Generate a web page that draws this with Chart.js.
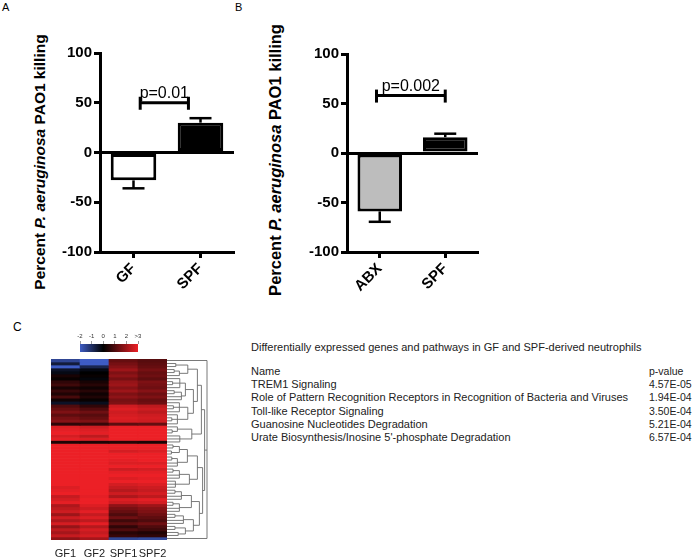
<!DOCTYPE html>
<html>
<head>
<meta charset="utf-8">
<script src="https://cdn.jsdelivr.net/npm/chart.js@4/dist/chart.umd.min.js"></script>
<style>
  html, body { margin:0; padding:0; background:#fff; }
  body { width:693px; height:558px; position:relative; overflow:hidden; font-family:"Liberation Sans", Arial, sans-serif; color:#000; }
  canvas { position:absolute; }
  .lbl { position:absolute; white-space:nowrap; line-height:1; }
  .ytitle { position:absolute; white-space:nowrap; font-weight:bold; line-height:1; transform:translate(-50%,-50%) rotate(-90deg); }
  .tbl { position:absolute; white-space:nowrap; font-size:11px; line-height:1; color:#222; transform:translateY(-50%); }
  .pv { font-size:10.5px; }
</style>
</head>
<body>
<div class="lbl" style="left:2px;top:2px;font-size:11px;">A</div>
<div class="lbl" style="left:235px;top:2px;font-size:11px;">B</div>
<div class="lbl" style="left:13px;top:321px;font-size:12px;">C</div>

<div class="ytitle" style="left:40px;top:162px;font-size:15.5px;">Percent <i>P. aeruginosa</i> PAO1 killing</div>
<div class="ytitle" style="left:275px;top:160px;font-size:16.5px;">Percent <i>P. aeruginosa</i> PAO1 killing</div>

<canvas id="chartA" width="190" height="260" style="left:50px;top:40px;"></canvas>
<canvas id="chartB" width="195" height="260" style="left:290px;top:40px;"></canvas>
<canvas id="colorbar" width="80" height="26" style="left:70px;top:328px;"></canvas>
<canvas id="heat" width="135" height="208" style="left:40px;top:350px;"></canvas>
<canvas id="dendro" width="60" height="208" style="left:160px;top:350px;"></canvas>

<div id="table"></div>

<script>
// ---------------- DATA ----------------
const categoriesA = ['GF', 'SPF'];
const killingA = [-28, 30];
const errorA = [8, 4.5];
const pValueA = 'p=0.01';

const categoriesB = ['ABX', 'SPF'];
const killingB = [-59, 16];
const errorB = [10.5, 3.5];
const pValueB = 'p=0.002';

const yTickValues = [-100, -50, 0, 50, 100];

const heatColumns = ['GF1', 'GF2', 'SPF1', 'SPF2'];
const heatGF1 = [-1.5,-0.6,-2,-0.4,-0.2,0.3,0.1,0.6,0.8,0.3,0.7,0.4,0.9,0.2,-0.4,1.0,1.3,1.6,1.2,1.5,1.7,0.6,
  2.8,2.9,3,2.7,2.9,0.4,
  3,3,3,3,3,3,3,3,3,3,3,3,3,3,2.8,2.9,3,2.5,2.7,2.9,2.2,2.4,2.6,2.0,2.6,2.2,2.7,1.9,2.4,2.1,2.5,1.8];
const heatGF2 = [-2,-2,-0.8,-0.2,0,0.1,-0.1,0.3,0.5,0.2,0.5,0.2,0.4,0.1,-0.3,0.6,1.0,1.4,1.1,1.3,1.6,0.7,
  2.6,2.8,2.9,2.4,2.8,0.4,
  3,3,3,3,3,3,3,3,3,3,3,3,3,3,3,3,3,2.9,3,3,2.8,2.6,2.9,2.5,2.8,2.4,2.9,2.3,2.7,2.5,2.7,2.1];
const heatSPF1 = [1.3,1.5,1.7,2.0,1.6,1.8,1.5,1.9,2.0,1.7,2.0,1.6,1.8,1.5,1.6,2.6,2.8,2.6,2.7,2.8,2.7,1.2,
  3,3,3,3,3,0.5,
  3,3,2.7,3,3,2.9,2.8,3,2.6,2.9,3,2.8,3,2.7,2.5,2.3,2.6,2.2,2.8,2.6,1.8,1.5,1.3,1.0,1.4,0.8,1.2,0.6,1.0,0.5,0.7,-1.5];
const heatSPF2 = [1.1,1.2,1.3,1.5,1.3,1.4,1.2,1.6,1.5,1.4,1.7,1.4,1.6,1.3,1.4,2.4,2.6,2.4,2.6,2.7,2.6,1.3,
  3,3,3,3,3,0.4,
  3,3,2.8,3,3,3,2.8,3,2.7,2.9,3,2.9,3,2.8,2.6,2.5,2.7,2.4,2.9,2.7,2.0,1.7,1.6,1.4,1.2,1.0,1.4,1.0,0.8,0.4,0.6,-1.6];
const colorbarTicks = [-2, -1, 0, 1, 2, 3];

// dendrogram clusters: [first row, last row, merge height]
const dendroClusters = [
  [0,59,10],[1,58,9.4],[1,27,8.6],[28,58,8.9],
  [1,21,7.6],[22,27,6.2],[1,5,5.2],[6,21,6.6],[6,13,4.6],[14,21,5.2],
  [1,2,2.2],[3,5,3.1],[6,9,3.2],[10,13,3.6],[14,17,3.1],[18,21,2.6],[22,24,2.6],[25,27,3.2],
  [28,42,7.6],[43,58,8.1],[28,35,5.1],[36,42,5.6],[43,50,6.1],[51,58,6.6],
  [28,31,3.1],[32,35,2.6],[36,39,3.1],[40,42,2.1],[43,46,3.6],[47,50,3.1],[51,54,4.1],[55,58,4.6],
  [28,29,1.5],[30,31,1.1],[32,33,1.2],[36,37,1.5],[43,44,2.0],[47,48,1.5],[51,52,2.0],[55,56,2.0],[57,58,2.8],
  [7,8,1.4],[10,11,1.8],[15,16,1.6],[19,20,1.2],[3,4,1.8],[23,24,1.3]
];

const tableTitle = 'Differentially expressed genes and pathways in GF and SPF-derived neutrophils';
const tableHeader = ['Name', 'p-value'];
const pathwayNames = [
  'TREM1 Signaling',
  'Role of Pattern Recognition Receptors in Recognition of Bacteria and Viruses',
  'Toll-like Receptor Signaling',
  'Guanosine Nucleotides Degradation',
  'Urate Biosynthesis/Inosine 5\'-phosphate Degradation'
];
const pathwayPValues = ['4.57E-05', '1.94E-04', '3.50E-04', '5.21E-04', '6.57E-04'];

// ---------------- RENDER ----------------
const FONT = '"Liberation Sans", Arial, sans-serif';
Chart.defaults.font.family = FONT;
Chart.defaults.color = '#000';

function annotPlugin(errors, bracket) {
  return {
    id: 'annot',
    afterDatasetsDraw(chart) {
      const { ctx, scales: { x, y } } = chart;
      const vals = chart.data.datasets[0].data;
      const line = (a, b, c, d) => { ctx.beginPath(); ctx.moveTo(a, b); ctx.lineTo(c, d); ctx.stroke(); };
      ctx.save();
      ctx.strokeStyle = '#000';
      ctx.lineWidth = 2.5;
      vals.forEach((v, i) => {
        const px = x.getPixelForValue(i);
        const y0 = y.getPixelForValue(v);
        const y1 = y.getPixelForValue(v + Math.sign(v) * errors[i]);
        line(px, y0, px, y1);
        line(px - 11, y1, px + 11, y1);
      });
      const by = y.getPixelForValue(bracket.value);
      const bx0 = x.getPixelForValue(bracket.from);
      const bx1 = x.getPixelForValue(bracket.to);
      ctx.lineWidth = 3;
      line(bx0, by, bx1, by);
      line(bx0, by - 6, bx0, by + 7);
      line(bx1, by - 6, bx1, by + 7);
      ctx.fillStyle = '#000';
      ctx.font = '16px ' + FONT;
      ctx.textAlign = 'center';
      ctx.textBaseline = 'alphabetic';
      ctx.fillText(bracket.label, (bx0 + bx1) / 2, by - 5);
      ctx.restore();
    }
  };
}

function barChart(id, cats, vals, errs, colors, yWidth, pad, bracket) {
  return new Chart(document.getElementById(id), {
    type: 'bar',
    data: {
      labels: cats,
      datasets: [{
        data: vals,
        backgroundColor: colors,
        borderColor: '#000',
        borderWidth: 3,
        borderSkipped: false,
        barPercentage: 0.68,
        categoryPercentage: 1
      }]
    },
    options: {
      responsive: false,
      animation: false,
      devicePixelRatio: 1,
      layout: { padding: pad },
      plugins: { legend: { display: false }, tooltip: { enabled: false } },
      scales: {
        x: {
          grid: { offset: false, drawOnChartArea: false, tickLength: 6, tickWidth: 3, tickColor: '#000' },
          border: { color: '#000', width: 3 },
          ticks: { font: { size: 15, weight: 'bold' }, color: '#000', minRotation: 45, maxRotation: 45, padding: 2 },
          afterFit: s => { s.height = 48; }
        },
        y: {
          min: -100, max: 100,
          afterBuildTicks: s => { s.ticks = yTickValues.map(v => ({ value: v })); },
          ticks: { font: { size: 15, weight: 'bold' }, color: '#000', padding: 2 },
          grid: {
            color: c => (c.tick && c.tick.value === 0) ? '#000' : 'rgba(0,0,0,0)',
            lineWidth: 3, tickLength: 6, tickWidth: 3, tickColor: '#000'
          },
          border: { color: '#000', width: 3 },
          afterFit: s => { s.width = yWidth; }
        }
      }
    },
    plugins: [annotPlugin(errs, bracket)]
  });
}

barChart('chartA', categoriesA, killingA, errorA, ['#ffffff', '#000000'], 50,
  { top: 13, right: 6, left: 0, bottom: 0 },
  { from: 0.1, to: 0.82, value: 50, label: pValueA });
barChart('chartB', categoriesB, killingB, errorB, ['#bdbdbd', '#000000'], 57,
  { top: 14, right: 7, left: 0, bottom: 0 },
  { from: -0.05, to: 1.0, value: 58, label: pValueB });

// heat color scale
const BLUE = [62, 92, 196], RED = [236, 32, 38];
function heatColor(z) {
  z = Math.max(-2, Math.min(3, z));
  let c, t;
  if (z < 0) { t = -z / 2; c = BLUE; } else { t = z / 3; c = RED; }
  return `rgb(${Math.round(c[0]*t)},${Math.round(c[1]*t)},${Math.round(c[2]*t)})`;
}

// colorbar
new Chart(document.getElementById('colorbar'), {
  type: 'bar',
  data: {
    labels: ['z'],
    datasets: [{
      data: [[colorbarTicks[0], colorbarTicks[colorbarTicks.length - 1]]],
      backgroundColor: ctx => {
        const ch = ctx.chart, sx = ch.scales.x;
        if (!ch.chartArea || !sx) return '#000';
        const g = ch.ctx.createLinearGradient(sx.getPixelForValue(-2), 0, sx.getPixelForValue(3), 0);
        g.addColorStop(0, heatColor(-2));
        g.addColorStop(0.4, heatColor(0));
        g.addColorStop(1, heatColor(3));
        return g;
      },
      barPercentage: 1, categoryPercentage: 1, borderWidth: 0
    }]
  },
  options: {
    indexAxis: 'y', responsive: false, animation: false, devicePixelRatio: 1,
    layout: { padding: { left: 10, right: 12, top: 0, bottom: 2 } },
    plugins: { legend: { display: false }, tooltip: { enabled: false } },
    scales: {
      y: { display: false },
      x: {
        position: 'top', min: -2, max: 3,
        afterBuildTicks: s => { s.ticks = colorbarTicks.map(v => ({ value: v })); },
        ticks: { font: { size: 6 }, color: '#333', padding: 1, autoSkip: false, maxRotation: 0,
          callback: v => v === 3 ? '>3' : String(v) },
        grid: { drawOnChartArea: false, tickLength: 3, tickColor: '#555', lineWidth: 0.6 },
        border: { display: false },
        afterFit: s => { s.height = 16; }
      }
    }
  }
});

// heatmap as stacked bars (one dataset per row)
const heatCols = [heatGF1, heatGF2, heatSPF1, heatSPF2];
const nRows = heatGF1.length;
const heatDatasets = [];
for (let r = 0; r < nRows; r++) {
  heatDatasets.push({
    data: heatColumns.map(() => 1),
    backgroundColor: heatCols.map(col => heatColor(col[r])),
    borderWidth: 0, barPercentage: 1, categoryPercentage: 1
  });
}
new Chart(document.getElementById('heat'), {
  type: 'bar',
  data: { labels: heatColumns, datasets: heatDatasets },
  options: {
    responsive: false, animation: false, devicePixelRatio: 1,
    layout: { padding: { left: 11, right: 8, top: 9, bottom: 0 } },
    plugins: { legend: { display: false }, tooltip: { enabled: false } },
    scales: {
      x: {
        stacked: true,
        grid: { drawOnChartArea: false, drawTicks: false, color: 'rgba(0,0,0,0)' },
        border: { display: false },
        ticks: { display: true, autoSkip: false, font: { size: 11 }, color: '#222', padding: 7, maxRotation: 0, minRotation: 0 },
        afterFit: s => { s.height = 18; }
      },
      y: { stacked: true, display: false, min: 0, max: nRows, reverse: true }
    }
  }
});

// dendrogram
function buildTree(start, end, h) {
  const children = [];
  let i = start;
  while (i <= end) {
    let best = null;
    dendroClusters.forEach(c => {
      if (c[0] === i && c[1] <= end && !(c[0] === start && c[1] === end)) {
        if (!best || c[1] > best[1]) best = c;
      }
    });
    if (best) { children.push(buildTree(best[0], best[1], best[2])); i = best[1] + 1; }
    else { children.push({ y: i + 0.5, h: 0, children: [] }); i++; }
  }
  const ys = children.map(c => c.y);
  return { y: (Math.min(...ys) + Math.max(...ys)) / 2, h, children };
}
const root = dendroClusters[0];
const tree = buildTree(root[0], root[1], root[2]);
new Chart(document.getElementById('dendro'), {
  type: 'scatter',
  data: { datasets: [] },
  options: {
    responsive: false, animation: false, devicePixelRatio: 1,
    layout: { padding: { left: 7, right: 13, top: 9, bottom: 18 } },
    plugins: { legend: { display: false }, tooltip: { enabled: false } },
    scales: {
      x: { display: false, min: 0, max: 10 },
      y: { display: false, min: 0, max: nRows, reverse: true }
    }
  },
  plugins: [{
    id: 'dendroDraw',
    afterDraw(chart) {
      const { ctx, scales: { x, y } } = chart;
      ctx.save();
      ctx.strokeStyle = '#6a6a6a';
      ctx.lineWidth = 0.9;
      const draw = node => {
        if (!node.children.length) return;
        const px = x.getPixelForValue(node.h);
        node.children.forEach(ch => {
          ctx.beginPath();
          ctx.moveTo(x.getPixelForValue(ch.h), y.getPixelForValue(ch.y));
          ctx.lineTo(px, y.getPixelForValue(ch.y));
          ctx.stroke();
          draw(ch);
        });
        const ys = node.children.map(c => c.y);
        ctx.beginPath();
        ctx.moveTo(px, y.getPixelForValue(Math.min(...ys)));
        ctx.lineTo(px, y.getPixelForValue(Math.max(...ys)));
        ctx.stroke();
      };
      draw(tree);
      ctx.restore();
    }
  }]
});

// table text
const tbl = document.getElementById('table');
function addText(txt, x, y, cls) {
  const d = document.createElement('div');
  d.className = 'tbl' + (cls ? ' ' + cls : '');
  d.style.left = x + 'px';
  d.style.top = y + 'px';
  d.textContent = txt;
  tbl.appendChild(d);
}
addText(tableTitle, 251, 347);
addText(tableHeader[0], 251, 371);
addText(tableHeader[1], 649, 371, 'pv');
const rowY = [384, 397.3, 410.6, 424, 437.3];
pathwayNames.forEach((n, i) => {
  addText(n, 251, rowY[i]);
  addText(pathwayPValues[i], 649, rowY[i], 'pv');
});
</script>
</body>
</html>
